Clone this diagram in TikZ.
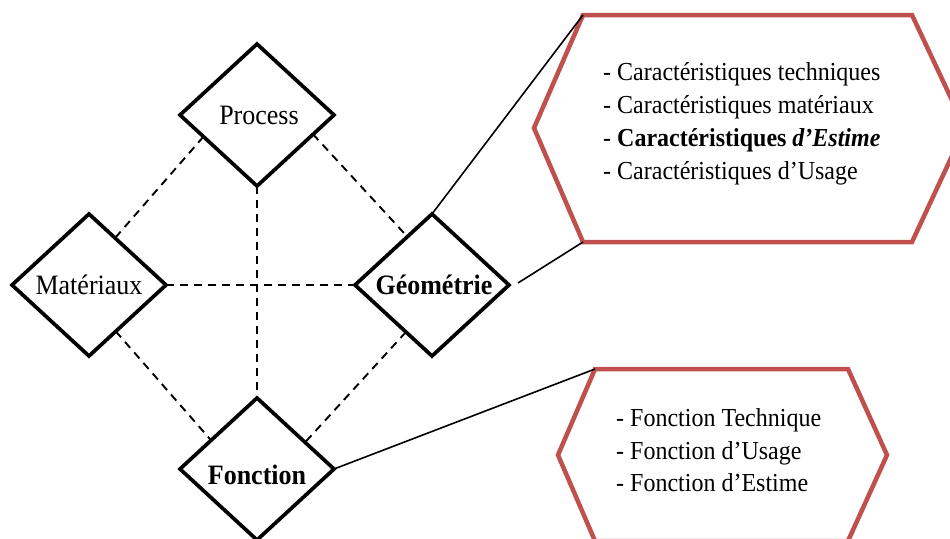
\documentclass[tikz,border=0pt]{standalone}
\usepackage{fontspec}
\usepackage{graphicx}
\setmainfont{Liberation Serif}
\usetikzlibrary{shapes.geometric}
\definecolor{hexred}{HTML}{C0504D}
\newcommand{\vstr}[1]{\scalebox{1}[1.08]{#1}}
\begin{document}
\begin{tikzpicture}[x=1pt,y=-1pt,
  dia/.style={diamond, draw, line width=3.7pt, minimum width=154pt, minimum height=142pt, inner sep=0pt, outer sep=0pt, aspect=1.08},
  dlabel/.style={inner sep=0pt, font=\fontsize{26}{30}\selectfont},
  dlink/.style={draw, line width=1.9pt, dash pattern=on 8pt off 6pt},
  slink/.style={draw, line width=1.6pt},
  hexb/.style={draw=hexred, line width=4.5pt, line join=miter},
  item/.style={anchor=base west, inner sep=0pt, font=\fontsize{24}{28}\selectfont}]
\useasboundingbox (0,0) rectangle (950,538);
\fill[white] (0,0) rectangle (950,538);
\clip (0,0) rectangle (950,538);

% diamonds
\node[dia] (P) at (257,115) {};
\node[dia] (M) at (89,285) {};
\node[dia] (G) at (432,285) {};
\node[dia] (F) at (257,469) {};
\node[dlabel] (Pt) at ([xshift=2pt]P.center) {\vstr{Process}};
\node[dlabel] (Mt) at (M.center) {\vstr{Matériaux}};
\node[dlabel] (Gt) at ([xshift=2pt]G.center) {\vstr{\bfseries Géométrie}};
\node[dlabel] (Ft) at ([yshift=-6pt]F.center) {\vstr{\bfseries Fonction}};

% dashed links
\draw[dlink] (P.202) -- (M.61);
\draw[dlink] (P.341) -- (G.117);
\draw[dlink] (M.300) -- (F.148);
\draw[dlink] (G.241) -- (F.29);
\draw[dlink] (P.south) -- (F.north);
\draw[dlink] (M.east) -- (G.west);

% hexagon 1
\coordinate (h1a) at (583,15);
\coordinate (h1b) at (912,15);
\coordinate (h1c) at (965,128);
\coordinate (h1d) at (912,242);
\coordinate (h1e) at (583,242);
\coordinate (h1f) at (534,128);
\draw[hexb] (h1a) -- (h1b) -- (h1c) -- (h1d) -- (h1e) -- (h1f) -- cycle;
\node[item] (t1) at (603,80) {\vstr{- Caractéristiques techniques}};
\node[item] (t2) at (603,113) {\vstr{- Caractéristiques matériaux}};
\node[item] (t3) at (603,146) {\vstr{- \textbf{Caractéristiques \textit{d’Estime}}}};
\node[item] (t4) at (603,179) {\vstr{- Caractéristiques d’Usage}};

% hexagon 2
\coordinate (h2a) at (595,369);
\coordinate (h2b) at (848,369);
\coordinate (h2c) at (887,455);
\coordinate (h2d) at (848,541);
\coordinate (h2e) at (595,541);
\coordinate (h2f) at (558,455);
\draw[hexb] (h2a) -- (h2b) -- (h2c) -- (h2d) -- (h2e) -- (h2f) -- cycle;
\node[item] (u1) at (616,426) {\vstr{- Fonction Technique}};
\node[item] (u2) at (616,459) {\vstr{- Fonction d’Usage}};
\node[item] (u3) at (616,491) {\vstr{- Fonction d’Estime}};

% solid connectors
\coordinate (gr) at ([shift={(9,-2)}]G.east);
\draw[slink] (G.north) -- (h1a);
\draw[slink] (gr) -- (h1e);
\draw[slink] (F.east) -- (h2a);
\end{tikzpicture}
\end{document}
